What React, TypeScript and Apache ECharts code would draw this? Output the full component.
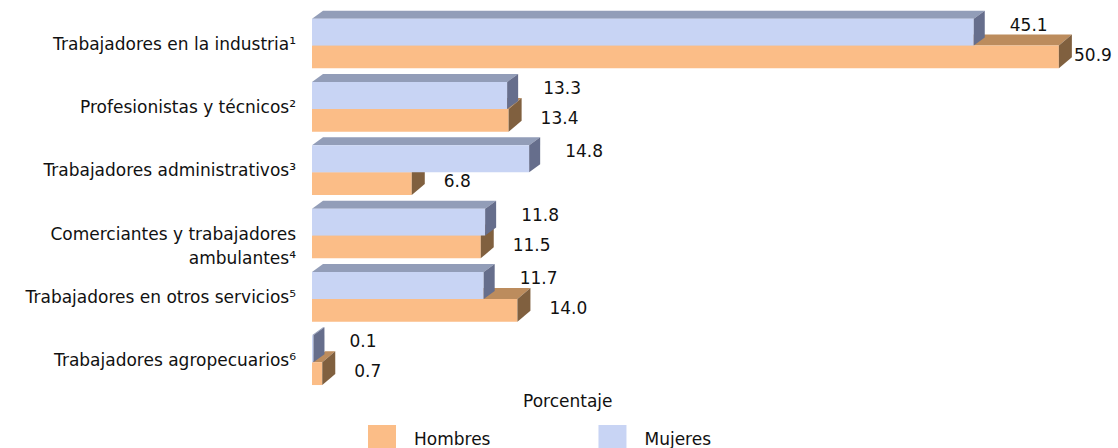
import React, { useEffect, useRef } from "react";
import * as echarts from "echarts";

const categories = [
  "Trabajadores en la industria¹",
  "Profesionistas y técnicos²",
  "Trabajadores administrativos³",
  "Comerciantes y trabajadores\nambulantes⁴",
  "Trabajadores en otros servicios⁵",
  "Trabajadores agropecuarios⁶",
];
const hombres = [50.9, 13.4, 6.8, 11.5, 14.0, 0.7];
const mujeres = [45.1, 13.3, 14.8, 11.8, 11.7, 0.1];
const seriesNames = ["Hombres", "Mujeres"];
const axisName = "Porcentaje";

const FONT = "DejaVu Sans";
const FS = 17;

const palette = {
  Hombres: { front: "#FBBD87", top: "#BC8C5D", side: "#80603F", dx: 13, dy: 11, labelDx: 32, labelDy: 9 },
  Mujeres: { front: "#C8D4F4", top: "#929DB8", side: "#666E8C", dx: 11, dy: 8, labelDx: 36, labelDy: 6 },
};

function makeRender(name: "Hombres" | "Mujeres") {
  const p = palette[name];
  return (params: any, api: any) => {
    const v = api.value(0);
    const c = api.value(1);
    const p0 = api.coord([0, c]);
    const p1 = api.coord([v, c]);
    const band = api.size([0, 1])[1];
    const cy = p0[1];
    const x0 = p0[0];
    const x1 = p1[0];
    let yTop: number, yBot: number;
    if (name === "Mujeres") {
      yTop = cy - band * 0.395;
      yBot = cy + band * 0.03;
    } else {
      yTop = cy + band * 0.03;
      yBot = cy + band * 0.39;
    }
    const dx = p.dx;
    const dy = p.dy;
    const maxX = api.getWidth() - 44;
    return {
      type: "group",
      children: [
        {
          type: "polygon",
          shape: { points: [[x0, yTop], [x0 + dx, yTop - dy], [x1 + dx, yTop - dy], [x1, yTop]] },
          style: { fill: p.top },
        },
        {
          type: "rect",
          shape: { x: x0, y: yTop, width: Math.max(x1 - x0, 0), height: yBot - yTop },
          style: { fill: p.front },
        },
        {
          type: "polygon",
          shape: { points: [[x1, yTop], [x1 + dx, yTop - dy], [x1 + dx, yBot - dy], [x1, yBot]] },
          style: { fill: p.side },
        },
        {
          type: "text",
          x: Math.min(x1 + p.labelDx, maxX),
          y: yTop + p.labelDy,
          style: {
            text: v.toFixed(1),
            fill: "#111",
            font: `${FS}px "${FONT}"`,
            textAlign: "left",
            textVerticalAlign: "middle",
          },
        },
      ],
    };
  };
}

export default function App() {
  const ref = useRef<HTMLDivElement>(null);
  useEffect(() => {
    if (!ref.current) return;
    const chart = echarts.init(ref.current, undefined, { renderer: "svg" });
    chart.setOption({
      animation: false,
      backgroundColor: "#fff",
      grid: { left: 312, top: 12, width: 763, height: 380 },
      xAxis: {
        type: "value",
        min: 0,
        max: 52,
        axisLine: { show: false },
        axisTick: { show: false },
        axisLabel: { show: false },
        splitLine: { show: false },
      },
      yAxis: {
        type: "category",
        inverse: true,
        data: categories,
        axisLine: { show: false },
        axisTick: { show: false },
        splitLine: { show: false },
        axisLabel: {
          color: "#111",
          fontFamily: FONT,
          fontSize: FS,
          lineHeight: 24,
          margin: 16,
          align: "right",
          formatter: (v: string) => (v.includes("\n") ? "\n" + v : v),
        },
      },
      legend: {
        data: seriesNames.map((n) => ({ name: n, icon: "rect" })),
        left: 368,
        top: 425,
        padding: 0,
        itemWidth: 28,
        itemHeight: 28,
        itemGap: 108,
        formatter: (n: string) => `{t|${n}}`,
        textStyle: {
          color: "#111",
          fontFamily: FONT,
          fontSize: FS,
          rich: {
            t: { padding: [0, 0, 0, 13], fontFamily: FONT, fontSize: FS, lineHeight: 17, color: "#111" },
          },
        },
      },
      graphic: [
        {
          type: "text",
          left: 523,
          top: 392,
          style: { text: axisName, fill: "#111", font: `${FS}px "${FONT}"` },
        },
      ],
      series: [
        {
          name: "Hombres",
          type: "custom",
          renderItem: makeRender("Hombres"),
          itemStyle: { color: palette.Hombres.front },
          encode: { x: 0, y: 1 },
          data: hombres.map((v, i) => [v, i]),
          clip: false,
        },
        {
          name: "Mujeres",
          type: "custom",
          renderItem: makeRender("Mujeres"),
          itemStyle: { color: palette.Mujeres.front },
          encode: { x: 0, y: 1 },
          data: mujeres.map((v, i) => [v, i]),
          clip: false,
        },
      ],
    });
    return () => chart.dispose();
  }, []);
  return (
    <div
      ref={ref}
      style={{ position: "absolute", left: 0, top: 0, width: 1118, height: 448 }}
    />
  );
}
